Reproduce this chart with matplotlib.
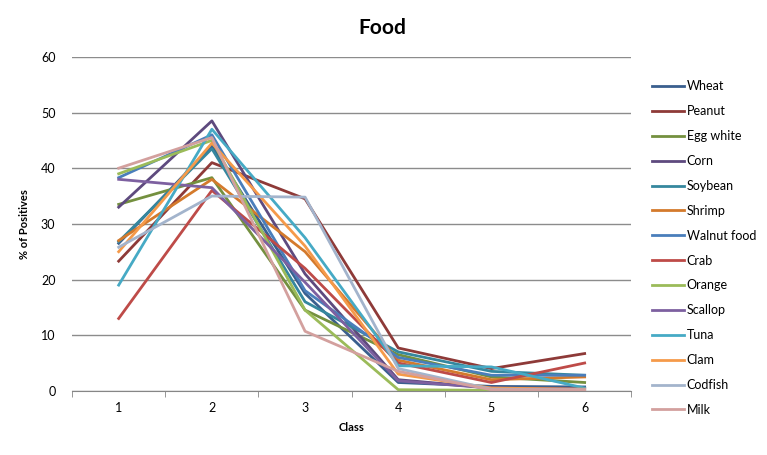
import matplotlib
matplotlib.use('Agg')
import matplotlib.pyplot as plt
import numpy as np

plt.rcParams['font.family'] = ['Lato', 'DejaVu Sans']

# Data
classes = [1, 2, 3, 4, 5, 6]
foods = ['Wheat', 'Peanut', 'Egg white', 'Corn', 'Soybean', 'Shrimp', 'Walnut food',
         'Crab', 'Orange', 'Scallop', 'Tuna', 'Clam', 'Codfish', 'Milk']
wheat = [26.5, 44.0, 17.5, 1.5, 0.8, 0.7]
peanut = [23.3, 41.0, 34.5, 7.7, 4.0, 6.7]
egg_white = [33.5, 38.3, 14.5, 6.5, 2.5, 1.5]
corn = [33.0, 48.5, 21.0, 2.0, 0.5, 0.3]
soybean = [26.8, 43.5, 16.0, 7.0, 3.5, 2.8]
shrimp = [27.0, 38.0, 25.0, 5.5, 2.0, 2.5]
walnut = [38.3, 46.0, 18.0, 6.0, 2.8, 2.8]
crab = [13.0, 36.0, 22.0, 5.0, 1.5, 5.0]
orange = [39.0, 45.0, 14.5, 0.2, 0.1, 0.2]
scallop = [38.0, 36.5, 19.5, 1.8, 0.5, 0.3]
tuna = [19.0, 47.0, 27.5, 4.5, 4.3, 0.5]
clam = [25.0, 44.5, 26.0, 3.0, 0.5, 0.3]
codfish = [25.8, 35.0, 34.8, 4.0, 0.3, 0.2]
milk = [40.0, 45.5, 10.7, 3.5, 0.2, 0.2]
series = [wheat, peanut, egg_white, corn, soybean, shrimp, walnut,
          crab, orange, scallop, tuna, clam, codfish, milk]

colors = ['#3A5F8E', '#8E3A38', '#74903F', '#5E4A7E', '#35879E', '#D47A2C', '#4A7EBB',
          '#BE4B48', '#9BBB59', '#7D60A0', '#46AAC5', '#F59A4A', '#A3B4CC', '#D3A09E']

fig = plt.figure(figsize=(7.67, 4.55), dpi=100)
ax = fig.add_axes([0.094, 0.141, 0.729, 0.734])

for name, vals, c in zip(foods, series, colors):
    ax.plot(classes, vals, color=c, lw=2.0, label=name)

ax.set_xlim(0.5, 6.5)
ax.set_ylim(0, 60)
ax.set_yticks(np.arange(0, 61, 10))
ax.set_xticks(classes)
ax.set_xticks(np.arange(0.5, 6.6, 1), minor=True)
ax.tick_params(axis='x', which='major', length=0, pad=8, labelsize=9)
ax.tick_params(axis='x', which='minor', length=4, color='#868686')
ax.tick_params(axis='y', length=0, pad=12, labelsize=9)
ax.grid(axis='y', color='#8C8C8C', lw=1.0)
ax.set_axisbelow(True)
for s in ['top', 'right', 'left']:
    ax.spines[s].set_visible(False)
ax.spines['bottom'].set_color('#868686')

ax.set_xlabel('Class', fontsize=8, fontweight='bold', labelpad=6)
ax.set_ylabel('% of Positives', fontsize=8, fontweight='bold', labelpad=8)
fig.suptitle('Food', fontsize=15, fontweight='bold', x=0.498, y=0.96)

fig.legend(loc='upper left', bbox_to_anchor=(0.835, 0.848), frameon=False,
           fontsize=9, handlelength=2.6, handletextpad=0.2, labelspacing=1.03)

fig.savefig('out.png', dpi=100)
